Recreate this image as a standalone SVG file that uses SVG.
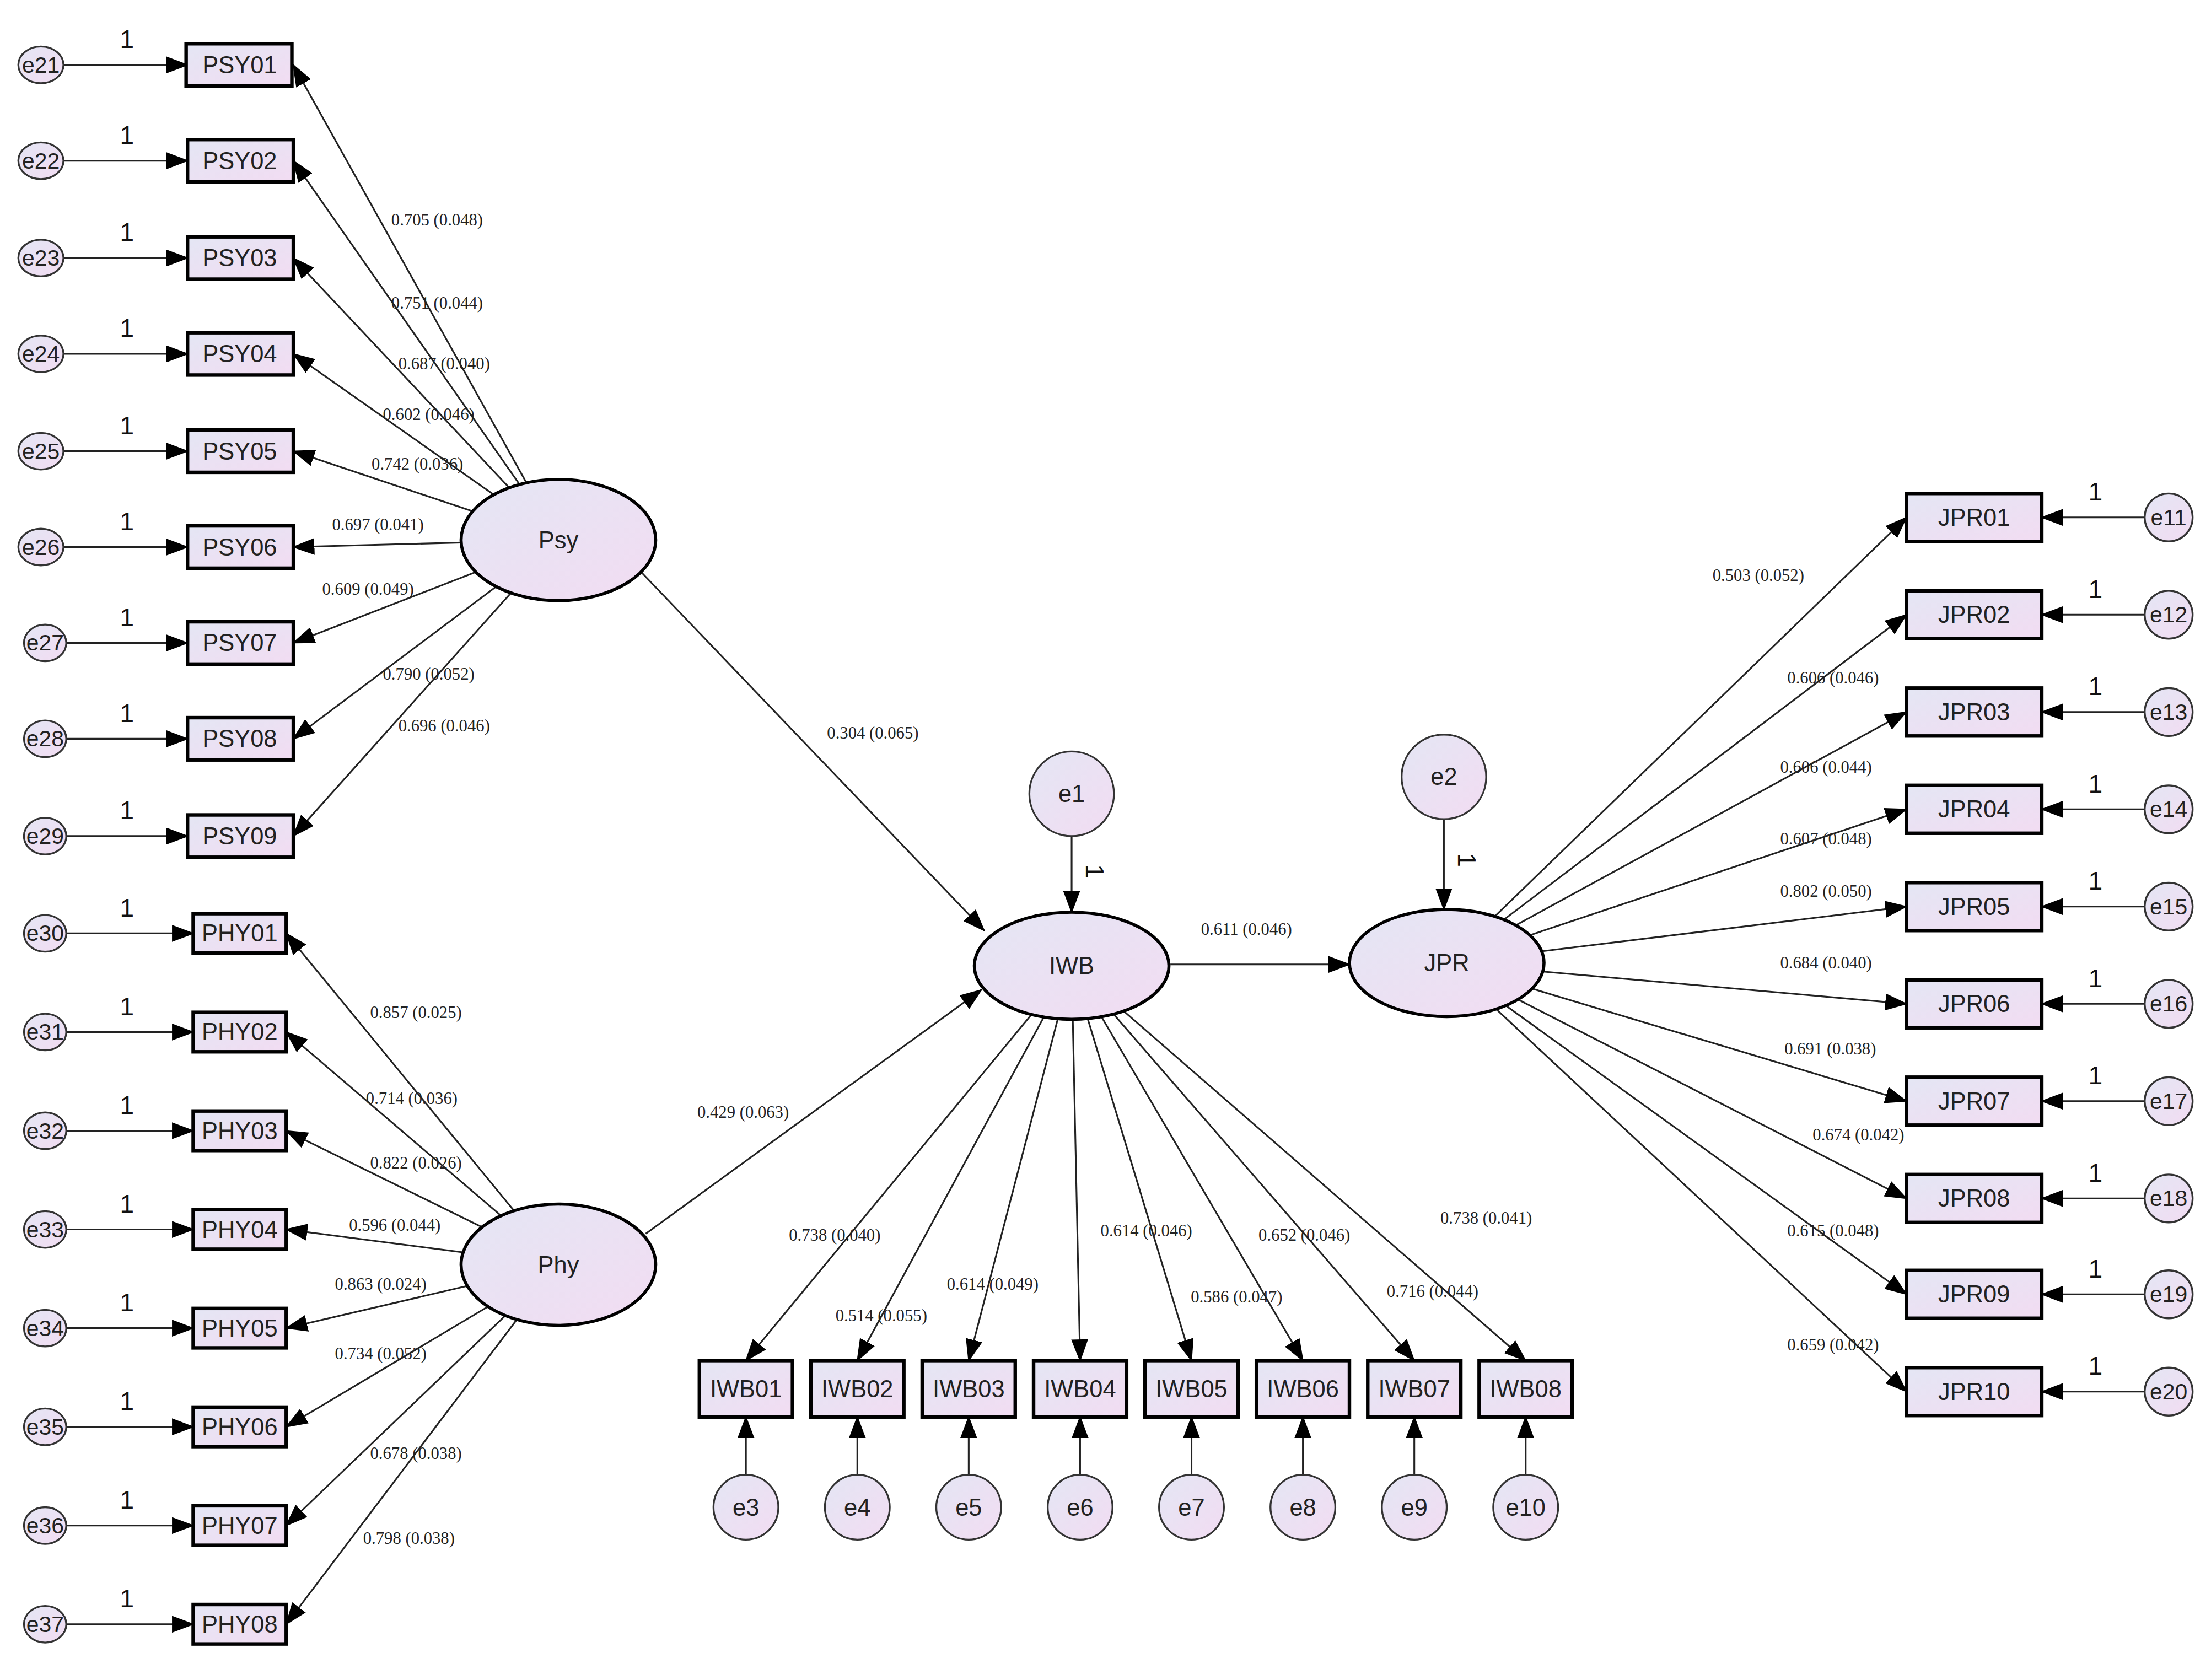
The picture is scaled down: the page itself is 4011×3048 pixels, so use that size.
<svg xmlns="http://www.w3.org/2000/svg" width="4011" height="3048" viewBox="0 0 4011 3048">
<defs>
<linearGradient id="g" x1="0" y1="0" x2="1" y2="1"><stop offset="0" stop-color="#e4e6f4"/><stop offset="1" stop-color="#f2dcf2"/></linearGradient>
<marker id="a" markerUnits="userSpaceOnUse" markerWidth="16" markerHeight="12" refX="15" refY="6" orient="auto"><path d="M0,0 L16,6 L0,12 z" fill="#000"/></marker>
<style>
.c line{stroke:#222;stroke-width:1.2;marker-end:url(#a)}
.b{fill:url(#g);stroke:#000;stroke-width:2.5}
.o{fill:url(#g);stroke:#333;stroke-width:1.3}
.l{fill:url(#g);stroke:#000;stroke-width:2.2}
.t{font-family:"Liberation Sans",Arial,sans-serif;font-size:17px;text-anchor:middle;dominant-baseline:central;fill:#222}
.e{font-family:"Liberation Sans",Arial,sans-serif;font-size:16px;text-anchor:middle;dominant-baseline:central;fill:#222}
.n{font-family:"Liberation Sans",Arial,sans-serif;font-size:18px;text-anchor:middle;fill:#111}
.w{font-family:"Liberation Serif","Times New Roman",serif;font-size:12px;text-anchor:middle;dominant-baseline:central;fill:#222}
</style>
</defs>
<rect width="4011" height="3048" fill="#fff"/>
<g transform="scale(2.558)">
<g id="connectors" class="c">
<line x1="396" y1="383" x2="208" y2="46"/><line x1="396" y1="383" x2="208" y2="114"/><line x1="396" y1="383" x2="208" y2="183"/><line x1="396" y1="383" x2="208" y2="251"/><line x1="396" y1="383" x2="208" y2="320"/><line x1="396" y1="383" x2="208" y2="388"/><line x1="396" y1="383" x2="208" y2="456"/><line x1="396" y1="383" x2="208" y2="524"/><line x1="396" y1="383" x2="208" y2="593"/>
<line x1="396" y1="897" x2="203" y2="662"/><line x1="396" y1="897" x2="203" y2="732"/><line x1="396" y1="897" x2="203" y2="802"/><line x1="396" y1="897" x2="203" y2="872"/><line x1="396" y1="897" x2="203" y2="942"/><line x1="396" y1="897" x2="203" y2="1012"/><line x1="396" y1="897" x2="203" y2="1082"/><line x1="396" y1="897" x2="203" y2="1152"/>
<line x1="45" y1="46" x2="133" y2="46"/><line x1="45" y1="114" x2="133" y2="114"/><line x1="45" y1="183" x2="133" y2="183"/><line x1="45" y1="251" x2="133" y2="251"/><line x1="45" y1="320" x2="133" y2="320"/><line x1="45" y1="388" x2="133" y2="388"/><line x1="45" y1="456" x2="133" y2="456"/><line x1="45" y1="524" x2="133" y2="524"/><line x1="45" y1="593" x2="133" y2="593"/>
<line x1="45" y1="662" x2="137" y2="662"/><line x1="45" y1="732" x2="137" y2="732"/><line x1="45" y1="802" x2="137" y2="802"/><line x1="45" y1="872" x2="137" y2="872"/><line x1="45" y1="942" x2="137" y2="942"/><line x1="45" y1="1012" x2="137" y2="1012"/><line x1="45" y1="1082" x2="137" y2="1082"/><line x1="45" y1="1152" x2="137" y2="1152"/>
<line x1="454" y1="405" x2="698" y2="660"/><line x1="458" y1="875" x2="696" y2="702"/><line x1="830" y1="684" x2="957" y2="684"/>
<line x1="760" y1="593" x2="760" y2="647"/><line x1="1024" y1="581" x2="1024" y2="645"/>
<line x1="760" y1="685" x2="529" y2="965"/><line x1="760" y1="685" x2="608" y2="965"/><line x1="760" y1="685" x2="687" y2="965"/><line x1="760" y1="685" x2="766" y2="965"/><line x1="760" y1="685" x2="845" y2="965"/><line x1="760" y1="685" x2="924" y2="965"/><line x1="760" y1="685" x2="1003" y2="965"/><line x1="760" y1="685" x2="1082" y2="965"/>
<line x1="529" y1="1046" x2="529" y2="1005"/><line x1="608" y1="1046" x2="608" y2="1005"/><line x1="687" y1="1046" x2="687" y2="1005"/><line x1="766" y1="1046" x2="766" y2="1005"/><line x1="845" y1="1046" x2="845" y2="1005"/><line x1="924" y1="1046" x2="924" y2="1005"/><line x1="1003" y1="1046" x2="1003" y2="1005"/><line x1="1082" y1="1046" x2="1082" y2="1005"/>
<line x1="1026" y1="683" x2="1352" y2="367"/><line x1="1026" y1="683" x2="1352" y2="436"/><line x1="1026" y1="683" x2="1352" y2="505"/><line x1="1026" y1="683" x2="1352" y2="574"/><line x1="1026" y1="683" x2="1352" y2="643"/><line x1="1026" y1="683" x2="1352" y2="712"/><line x1="1026" y1="683" x2="1352" y2="781"/><line x1="1026" y1="683" x2="1352" y2="850"/><line x1="1026" y1="683" x2="1352" y2="918"/><line x1="1026" y1="683" x2="1352" y2="987"/>
<line x1="1521" y1="367" x2="1448" y2="367"/><line x1="1521" y1="436" x2="1448" y2="436"/><line x1="1521" y1="505" x2="1448" y2="505"/><line x1="1521" y1="574" x2="1448" y2="574"/><line x1="1521" y1="643" x2="1448" y2="643"/><line x1="1521" y1="712" x2="1448" y2="712"/><line x1="1521" y1="781" x2="1448" y2="781"/><line x1="1521" y1="850" x2="1448" y2="850"/><line x1="1521" y1="918" x2="1448" y2="918"/><line x1="1521" y1="987" x2="1448" y2="987"/>
</g>
<g id="labels">
<text class="w" x="310" y="156">0.705 (0.048)</text><text class="w" x="310" y="215">0.751 (0.044)</text><text class="w" x="315" y="258">0.687 (0.040)</text><text class="w" x="304" y="294">0.602 (0.046)</text><text class="w" x="296" y="329">0.742 (0.036)</text><text class="w" x="268" y="372">0.697 (0.041)</text><text class="w" x="261" y="418">0.609 (0.049)</text><text class="w" x="304" y="478">0.790 (0.052)</text><text class="w" x="315" y="515">0.696 (0.046)</text>
<text class="w" x="295" y="718">0.857 (0.025)</text><text class="w" x="292" y="779">0.714 (0.036)</text><text class="w" x="295" y="825">0.822 (0.026)</text><text class="w" x="280" y="869">0.596 (0.044)</text><text class="w" x="270" y="911">0.863 (0.024)</text><text class="w" x="270" y="960">0.734 (0.052)</text><text class="w" x="295" y="1031">0.678 (0.038)</text><text class="w" x="290" y="1091">0.798 (0.038)</text>
<text class="w" x="619" y="520">0.304 (0.065)</text><text class="w" x="527" y="789">0.429 (0.063)</text><text class="w" x="884" y="659">0.611 (0.046)</text>
<text class="w" x="592" y="876">0.738 (0.040)</text><text class="w" x="625" y="933">0.514 (0.055)</text><text class="w" x="704" y="911">0.614 (0.049)</text><text class="w" x="813" y="873">0.614 (0.046)</text><text class="w" x="877" y="920">0.586 (0.047)</text><text class="w" x="925" y="876">0.652 (0.046)</text><text class="w" x="1016" y="916">0.716 (0.044)</text><text class="w" x="1054" y="864">0.738 (0.041)</text>
<text class="w" x="1247" y="408">0.503 (0.052)</text><text class="w" x="1300" y="481">0.606 (0.046)</text><text class="w" x="1295" y="544">0.606 (0.044)</text><text class="w" x="1295" y="595">0.607 (0.048)</text><text class="w" x="1295" y="632">0.802 (0.050)</text><text class="w" x="1295" y="683">0.684 (0.040)</text><text class="w" x="1298" y="744">0.691 (0.038)</text><text class="w" x="1318" y="805">0.674 (0.042)</text><text class="w" x="1300" y="873">0.615 (0.048)</text><text class="w" x="1300" y="954">0.659 (0.042)</text>
<text class="n" x="90" y="34">1</text><text class="n" x="90" y="102">1</text><text class="n" x="90" y="171">1</text><text class="n" x="90" y="239">1</text><text class="n" x="90" y="308">1</text><text class="n" x="90" y="376">1</text><text class="n" x="90" y="444">1</text><text class="n" x="90" y="512">1</text><text class="n" x="90" y="581">1</text>
<text class="n" x="90" y="650">1</text><text class="n" x="90" y="720">1</text><text class="n" x="90" y="790">1</text><text class="n" x="90" y="860">1</text><text class="n" x="90" y="930">1</text><text class="n" x="90" y="1000">1</text><text class="n" x="90" y="1070">1</text><text class="n" x="90" y="1140">1</text>
<text class="n" x="1486" y="355">1</text><text class="n" x="1486" y="424">1</text><text class="n" x="1486" y="493">1</text><text class="n" x="1486" y="562">1</text><text class="n" x="1486" y="631">1</text><text class="n" x="1486" y="700">1</text><text class="n" x="1486" y="769">1</text><text class="n" x="1486" y="838">1</text><text class="n" x="1486" y="906">1</text><text class="n" x="1486" y="975">1</text>
<text class="n" transform="translate(776,618) rotate(90)" x="0" y="6" font-size="14">1</text><text class="n" transform="translate(1040,610) rotate(90)" x="0" y="6" font-size="14">1</text>
<text class="n" transform="translate(545,1000) rotate(90)" x="0" y="6" font-size="14">1</text><text class="n" transform="translate(624,1000) rotate(90)" x="0" y="6" font-size="14">1</text><text class="n" transform="translate(703,1000) rotate(90)" x="0" y="6" font-size="14">1</text><text class="n" transform="translate(782,1000) rotate(90)" x="0" y="6" font-size="14">1</text><text class="n" transform="translate(861,1000) rotate(90)" x="0" y="6" font-size="14">1</text><text class="n" transform="translate(940,1000) rotate(90)" x="0" y="6" font-size="14">1</text><text class="n" transform="translate(1019,1000) rotate(90)" x="0" y="6" font-size="14">1</text><text class="n" transform="translate(1098,1000) rotate(90)" x="0" y="6" font-size="14">1</text>
</g>
<g id="Psy"><ellipse class="l" cx="396" cy="383" rx="69" ry="43"/><text class="t" x="396" y="383">Psy</text></g>
<g id="Phy"><ellipse class="l" cx="396" cy="897" rx="69" ry="43"/><text class="t" x="396" y="897">Phy</text></g>
<g id="IWB"><ellipse class="l" cx="760" cy="685" rx="69" ry="38"/><text class="t" x="760" y="685">IWB</text></g>
<g id="JPR"><ellipse class="l" cx="1026" cy="683" rx="69" ry="38"/><text class="t" x="1026" y="683">JPR</text></g>
<g id="e1"><circle class="o" cx="760" cy="563" r="30"/><text class="t" x="760" y="563">e1</text></g>
<g id="e2"><circle class="o" cx="1024" cy="551" r="30"/><text class="t" x="1024" y="551">e2</text></g>
<g id="PSY01"><rect class="b" x="132" y="31" width="75" height="30"/><text class="t" x="170" y="46">PSY01</text></g>
<g id="PSY02"><rect class="b" x="133" y="99" width="75" height="30"/><text class="t" x="170" y="114">PSY02</text></g>
<g id="PSY03"><rect class="b" x="133" y="168" width="75" height="30"/><text class="t" x="170" y="183">PSY03</text></g>
<g id="PSY04"><rect class="b" x="133" y="236" width="75" height="30"/><text class="t" x="170" y="251">PSY04</text></g>
<g id="PSY05"><rect class="b" x="133" y="305" width="75" height="30"/><text class="t" x="170" y="320">PSY05</text></g>
<g id="PSY06"><rect class="b" x="133" y="373" width="75" height="30"/><text class="t" x="170" y="388">PSY06</text></g>
<g id="PSY07"><rect class="b" x="133" y="441" width="75" height="30"/><text class="t" x="170" y="456">PSY07</text></g>
<g id="PSY08"><rect class="b" x="133" y="509" width="75" height="30"/><text class="t" x="170" y="524">PSY08</text></g>
<g id="PSY09"><rect class="b" x="133" y="578" width="75" height="30"/><text class="t" x="170" y="593">PSY09</text></g>
<g id="PHY01"><rect class="b" x="137" y="648" width="66" height="28"/><text class="t" x="170" y="662">PHY01</text></g>
<g id="PHY02"><rect class="b" x="137" y="718" width="66" height="28"/><text class="t" x="170" y="732">PHY02</text></g>
<g id="PHY03"><rect class="b" x="137" y="788" width="66" height="28"/><text class="t" x="170" y="802">PHY03</text></g>
<g id="PHY04"><rect class="b" x="137" y="858" width="66" height="28"/><text class="t" x="170" y="872">PHY04</text></g>
<g id="PHY05"><rect class="b" x="137" y="928" width="66" height="28"/><text class="t" x="170" y="942">PHY05</text></g>
<g id="PHY06"><rect class="b" x="137" y="998" width="66" height="28"/><text class="t" x="170" y="1012">PHY06</text></g>
<g id="PHY07"><rect class="b" x="137" y="1068" width="66" height="28"/><text class="t" x="170" y="1082">PHY07</text></g>
<g id="PHY08"><rect class="b" x="137" y="1138" width="66" height="28"/><text class="t" x="170" y="1152">PHY08</text></g>
<g id="e21"><ellipse class="o" cx="29" cy="46" rx="16" ry="13"/><text class="e" x="29" y="46">e21</text></g>
<g id="e22"><ellipse class="o" cx="29" cy="114" rx="16" ry="13"/><text class="e" x="29" y="114">e22</text></g>
<g id="e23"><ellipse class="o" cx="29" cy="183" rx="16" ry="13"/><text class="e" x="29" y="183">e23</text></g>
<g id="e24"><ellipse class="o" cx="29" cy="251" rx="16" ry="13"/><text class="e" x="29" y="251">e24</text></g>
<g id="e25"><ellipse class="o" cx="29" cy="320" rx="16" ry="13"/><text class="e" x="29" y="320">e25</text></g>
<g id="e26"><ellipse class="o" cx="29" cy="388" rx="16" ry="13"/><text class="e" x="29" y="388">e26</text></g>
<g id="e27"><ellipse class="o" cx="32" cy="456" rx="15" ry="13"/><text class="e" x="32" y="456">e27</text></g>
<g id="e28"><ellipse class="o" cx="32" cy="524" rx="15" ry="13"/><text class="e" x="32" y="524">e28</text></g>
<g id="e29"><ellipse class="o" cx="32" cy="593" rx="15" ry="13"/><text class="e" x="32" y="593">e29</text></g>
<g id="e30"><ellipse class="o" cx="32" cy="662" rx="15" ry="13"/><text class="e" x="32" y="662">e30</text></g>
<g id="e31"><ellipse class="o" cx="32" cy="732" rx="15" ry="13"/><text class="e" x="32" y="732">e31</text></g>
<g id="e32"><ellipse class="o" cx="32" cy="802" rx="15" ry="13"/><text class="e" x="32" y="802">e32</text></g>
<g id="e33"><ellipse class="o" cx="32" cy="872" rx="15" ry="13"/><text class="e" x="32" y="872">e33</text></g>
<g id="e34"><ellipse class="o" cx="32" cy="942" rx="15" ry="13"/><text class="e" x="32" y="942">e34</text></g>
<g id="e35"><ellipse class="o" cx="32" cy="1012" rx="15" ry="13"/><text class="e" x="32" y="1012">e35</text></g>
<g id="e36"><ellipse class="o" cx="32" cy="1082" rx="15" ry="13"/><text class="e" x="32" y="1082">e36</text></g>
<g id="e37"><ellipse class="o" cx="32" cy="1152" rx="15" ry="13"/><text class="e" x="32" y="1152">e37</text></g>
<g id="IWB01"><rect class="b" x="496" y="965" width="66" height="40"/><text class="t" x="529" y="985">IWB01</text></g>
<g id="IWB02"><rect class="b" x="575" y="965" width="66" height="40"/><text class="t" x="608" y="985">IWB02</text></g>
<g id="IWB03"><rect class="b" x="654" y="965" width="66" height="40"/><text class="t" x="687" y="985">IWB03</text></g>
<g id="IWB04"><rect class="b" x="733" y="965" width="66" height="40"/><text class="t" x="766" y="985">IWB04</text></g>
<g id="IWB05"><rect class="b" x="812" y="965" width="66" height="40"/><text class="t" x="845" y="985">IWB05</text></g>
<g id="IWB06"><rect class="b" x="891" y="965" width="66" height="40"/><text class="t" x="924" y="985">IWB06</text></g>
<g id="IWB07"><rect class="b" x="970" y="965" width="66" height="40"/><text class="t" x="1003" y="985">IWB07</text></g>
<g id="IWB08"><rect class="b" x="1049" y="965" width="66" height="40"/><text class="t" x="1082" y="985">IWB08</text></g>
<g id="e3"><circle class="o" cx="529" cy="1069" r="23"/><text class="t" x="529" y="1069">e3</text></g>
<g id="e4"><circle class="o" cx="608" cy="1069" r="23"/><text class="t" x="608" y="1069">e4</text></g>
<g id="e5"><circle class="o" cx="687" cy="1069" r="23"/><text class="t" x="687" y="1069">e5</text></g>
<g id="e6"><circle class="o" cx="766" cy="1069" r="23"/><text class="t" x="766" y="1069">e6</text></g>
<g id="e7"><circle class="o" cx="845" cy="1069" r="23"/><text class="t" x="845" y="1069">e7</text></g>
<g id="e8"><circle class="o" cx="924" cy="1069" r="23"/><text class="t" x="924" y="1069">e8</text></g>
<g id="e9"><circle class="o" cx="1003" cy="1069" r="23"/><text class="t" x="1003" y="1069">e9</text></g>
<g id="e10"><circle class="o" cx="1082" cy="1069" r="23"/><text class="t" x="1082" y="1069">e10</text></g>
<g id="JPR01"><rect class="b" x="1352" y="350" width="96" height="34"/><text class="t" x="1400" y="367">JPR01</text></g>
<g id="JPR02"><rect class="b" x="1352" y="419" width="96" height="34"/><text class="t" x="1400" y="436">JPR02</text></g>
<g id="JPR03"><rect class="b" x="1352" y="488" width="96" height="34"/><text class="t" x="1400" y="505">JPR03</text></g>
<g id="JPR04"><rect class="b" x="1352" y="557" width="96" height="34"/><text class="t" x="1400" y="574">JPR04</text></g>
<g id="JPR05"><rect class="b" x="1352" y="626" width="96" height="34"/><text class="t" x="1400" y="643">JPR05</text></g>
<g id="JPR06"><rect class="b" x="1352" y="695" width="96" height="34"/><text class="t" x="1400" y="712">JPR06</text></g>
<g id="JPR07"><rect class="b" x="1352" y="764" width="96" height="34"/><text class="t" x="1400" y="781">JPR07</text></g>
<g id="JPR08"><rect class="b" x="1352" y="833" width="96" height="34"/><text class="t" x="1400" y="850">JPR08</text></g>
<g id="JPR09"><rect class="b" x="1352" y="901" width="96" height="34"/><text class="t" x="1400" y="918">JPR09</text></g>
<g id="JPR10"><rect class="b" x="1352" y="970" width="96" height="34"/><text class="t" x="1400" y="987">JPR10</text></g>
<g id="e11"><circle class="o" cx="1538" cy="367" r="17"/><text class="e" x="1538" y="367">e11</text></g>
<g id="e12"><circle class="o" cx="1538" cy="436" r="17"/><text class="e" x="1538" y="436">e12</text></g>
<g id="e13"><circle class="o" cx="1538" cy="505" r="17"/><text class="e" x="1538" y="505">e13</text></g>
<g id="e14"><circle class="o" cx="1538" cy="574" r="17"/><text class="e" x="1538" y="574">e14</text></g>
<g id="e15"><circle class="o" cx="1538" cy="643" r="17"/><text class="e" x="1538" y="643">e15</text></g>
<g id="e16"><circle class="o" cx="1538" cy="712" r="17"/><text class="e" x="1538" y="712">e16</text></g>
<g id="e17"><circle class="o" cx="1538" cy="781" r="17"/><text class="e" x="1538" y="781">e17</text></g>
<g id="e18"><circle class="o" cx="1538" cy="850" r="17"/><text class="e" x="1538" y="850">e18</text></g>
<g id="e19"><circle class="o" cx="1538" cy="918" r="17"/><text class="e" x="1538" y="918">e19</text></g>
<g id="e20"><circle class="o" cx="1538" cy="987" r="17"/><text class="e" x="1538" y="987">e20</text></g>
</g>
</svg>
